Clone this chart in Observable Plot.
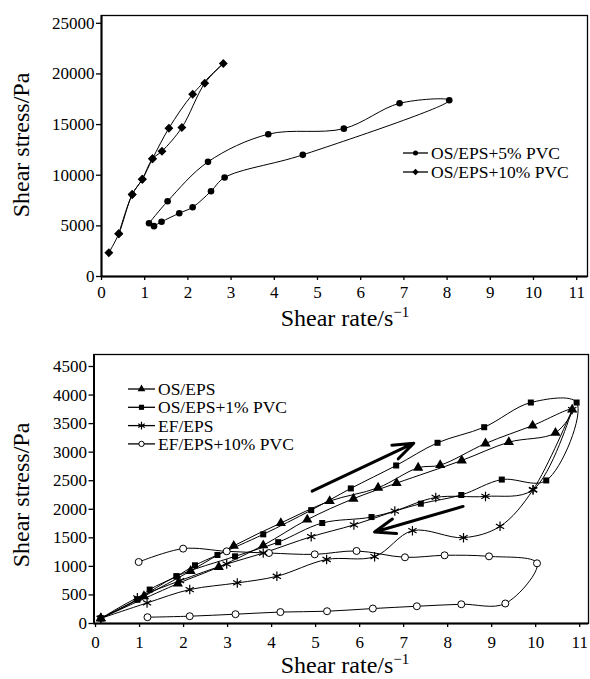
<!DOCTYPE html>
<html><head><meta charset="utf-8">
<script src="https://cdn.jsdelivr.net/npm/d3@7"></script>
<script src="https://cdn.jsdelivr.net/npm/@observablehq/plot@0.6"></script>
<style>
html,body{margin:0;padding:0;background:#fff;}
#chart{width:590px;}
#chart svg{display:block;overflow:visible;}
#chart svg text{font-family:'Liberation Serif','Times New Roman',Times,serif !important;}
</style></head><body><div id="chart"></div>
<script>
// ---------- Top panel data ----------
const topXTicks = [0,1,2,3,4,5,6,7,8,9,10,11];
const topYTicks = [0,5000,10000,15000,20000,25000];
const pvc5X  = [1.10,1.53,2.465,3.86,5.61,6.90,8.05,4.66,2.85,2.535,2.11,1.80,1.39,1.215];
const pvc5Y  = [5260,7430,11320,14050,14600,17100,17400,12010,9770,8420,6840,6250,5400,4970];
const pvc10X = [0.17,0.40,0.71,0.945,1.18,1.56,2.11,2.82,2.39,1.86,1.40,1.18,0.945,0.71,0.40];
const pvc10Y = [2340,4215,8095,9605,11620,14640,18000,21030,19080,14710,12370,11620,9605,8095,4215];
const topLegend = ["OS/EPS+5% PVC","OS/EPS+10% PVC"];

// ---------- Bottom panel data ----------
const botXTicks = [0,1,2,3,4,5,6,7,8,9,10,11];
const botYTicks = [0,500,1000,1500,2000,2500,3000,3500,4000,4500];
const osX   = [0.12,1.10,2.16,3.14,4.21,5.32,6.42,7.33,7.83,8.86,9.93,10.83,10.45,9.39,8.32,6.84,5.86,4.81,3.81,2.80,1.87,0.12];
const osY   = [90,477,920,1360,1759,2143,2377,2727,2773,3152,3466,3746,3339,3175,2855,2458,2185,1818,1369,990,699,90];
const os1X  = [0.12,0.95,1.23,1.84,2.26,2.77,3.81,4.90,5.80,6.83,7.77,8.83,9.89,10.93,10.24,9.23,8.31,7.39,6.27,5.15,4.15,3.17,1.84,0.95,0.12];
const os1Y  = [90,420,594,827,1019,1200,1561,1985,2365,2767,3164,3437,3869,3869,2505,2520,2250,2098,1864,1759,1424,1176,827,420,90];
const efX   = [0.12,0.95,1.92,2.98,3.81,4.90,5.87,6.80,7.73,8.86,9.94,10.83,9.94,9.19,8.36,7.20,6.34,5.25,4.12,3.22,2.14,1.17,0.12];
const efY   = [90,450,750,1040,1234,1520,1727,1968,2207,2225,2342,3746,2342,1701,1503,1625,1170,1121,827,710,594,360,90];
const ef10X = [0.98,1.99,2.98,3.94,4.98,5.93,7.03,7.93,8.94,10.03,9.31,8.31,7.30,6.30,5.26,4.20,3.18,2.14,1.18];
const ef10Y = [1077,1311,1264,1234,1211,1270,1159,1194,1176,1054,350,337,302,262,215,200,163,128,110];
const arrowX1 = [4.92, 8.35];
const arrowY1 = [2318, 2050];
const arrowX2 = [7.23, 6.34];
const arrowY2 = [3157, 1601];
const botLegend = ["OS/EPS","OS/EPS+1% PVC","EF/EPS","EF/EPS+10% PVC"];

const FONT = "'Liberation Serif','Times New Roman',Times,serif";
const pts = (xs, ys) => xs.map((x, i) => ({x, y: ys[i]}));
const fmt = d => String(d);
const chart = document.getElementById("chart");

// ---------- Top plot ----------
const topXDomain = [0, 11.25], topYDomain = [0, 25770];
const p5 = pts(pvc5X, pvc5Y), p10 = pts(pvc10X, pvc10Y);
const topPlot = Plot.plot({
  width: 590, height: 336,
  marginLeft: 101, marginRight: 3, marginTop: 15, marginBottom: 60,
  style: {fontFamily: FONT, fontSize: "17px", color: "#000", background: "#fff", overflow: "visible"},
  x: {domain: topXDomain, label: null},
  y: {domain: topYDomain, label: null},
  marks: [
    Plot.frame({stroke: "#000", strokeWidth: 1.3}),
    Plot.axisX({ticks: topXTicks, tickFormat: fmt, tickSize: 4, tickPadding: 5, label: null, strokeWidth: 1.3}),
    Plot.axisY({ticks: topYTicks, tickFormat: fmt, tickSize: 5, tickPadding: 2, label: null, strokeWidth: 1.3}),
    Plot.ruleX([topXDomain[0]], {stroke: "#000", strokeWidth: 2}),
    Plot.ruleY([topYDomain[0]], {stroke: "#000", strokeWidth: 2}),
    Plot.line(p5, {x: "x", y: "y", curve: "catmull-rom", stroke: "#000", strokeWidth: 1}),
    Plot.line(p10, {x: "x", y: "y", curve: "catmull-rom", stroke: "#000", strokeWidth: 1}),
    Plot.dot(p5, {x: "x", y: "y", r: 3.3, fill: "#000", symbol: "circle"}),
    Plot.dot(p10, {x: "x", y: "y", r: 4, fill: "#000", symbol: "diamond2"})
  ]
});
chart.appendChild(topPlot);

// ---------- Bottom plot ----------
const botXDomain = [-0.035, 11.2], botYDomain = [0, 4710];
const dOS = pts(osX, osY), dOS1 = pts(os1X, os1Y), dEF = pts(efX, efY), dEF10 = pts(ef10X, ef10Y);
const arrows = arrowX1.map((x1, i) => ({x1, y1: arrowY1[i], x2: arrowX2[i], y2: arrowY2[i]}));
const lineOpts = {x: "x", y: "y", curve: "catmull-rom", stroke: "#000", strokeWidth: 1};
const botPlot = Plot.plot({
  width: 590, height: 343,
  marginLeft: 93.5, marginRight: 2, marginTop: 18, marginBottom: 56,
  style: {fontFamily: FONT, fontSize: "17px", color: "#000", background: "#fff", overflow: "visible"},
  x: {domain: botXDomain, label: null},
  y: {domain: botYDomain, label: null},
  marks: [
    Plot.frame({stroke: "#000", strokeWidth: 1.3}),
    Plot.axisX({ticks: botXTicks, tickFormat: fmt, tickSize: 4, tickPadding: 8, label: null, strokeWidth: 1.3}),
    Plot.axisY({ticks: botYTicks, tickFormat: fmt, tickSize: 5, tickPadding: 2, label: null, strokeWidth: 1.3}),
    Plot.ruleX([botXDomain[0]], {stroke: "#000", strokeWidth: 2}),
    Plot.ruleY([botYDomain[0]], {stroke: "#000", strokeWidth: 2}),
    Plot.line(dEF10, lineOpts),
    Plot.line(dEF, lineOpts),
    Plot.line(dOS1, lineOpts),
    Plot.line(dOS, lineOpts),
    Plot.arrow(arrows, {x1: "x1", y1: "y1", x2: "x2", y2: "y2", stroke: "#000", strokeWidth: 3, headLength: 11, headAngle: 40}),
    Plot.dot(dEF10, {x: "x", y: "y", r: 3.5, fill: "#fff", stroke: "#000", strokeWidth: 1, symbol: "circle"}),
    Plot.dot(dEF, {x: "x", y: "y", r: 4.5, stroke: "#000", strokeWidth: 1.2, symbol: "asterisk"}),
    Plot.dot(dOS1, {x: "x", y: "y", r: 3.4, fill: "#000", symbol: "square"}),
    Plot.dot(dOS, {x: "x", y: "y", r: 3.8, fill: "#000", symbol: "triangle"})
  ]
});
chart.appendChild(botPlot);

// ---------- Titles & legends ----------
function yTitle(svg, cx, cy) {
  d3.select(svg).append("text")
    .attr("transform", `translate(${cx},${cy}) rotate(-90)`)
    .attr("text-anchor", "middle").attr("dominant-baseline", "central")
    .style("font-size", "24px").attr("fill", "#000")
    .text("Shear stress/Pa");
}
function xTitle(svg, cx, by) {
  const t = d3.select(svg).append("text")
    .attr("x", cx).attr("y", by).attr("text-anchor", "middle")
    .style("font-size", "24px").attr("fill", "#000");
  t.append("tspan").text("Shear rate/s");
  t.append("tspan").attr("dy", "-0.6em").style("font-size", "15px").text("\u22121");
}
function legend(svg, labels, symbols, opts) {
  const g = d3.select(svg).append("g").attr("text-anchor", "start");
  labels.forEach((lab, i) => {
    const y = opts.y0 + i * opts.dy;
    g.append("line").attr("x1", opts.x0).attr("x2", opts.x0 + opts.len)
      .attr("y1", y).attr("y2", y).attr("stroke", "#000").attr("stroke-width", 1.3);
    const s = symbols[i];
    g.append("path").attr("d", d3.symbol(s.type, s.size)())
      .attr("transform", `translate(${opts.x0 + opts.len / 2},${y})`)
      .attr("fill", s.fill).attr("stroke", s.stroke || "none").attr("stroke-width", s.sw || 1);
    g.append("text").attr("x", opts.x0 + opts.len + 3).attr("y", y)
      .attr("text-anchor", "start").attr("dominant-baseline", "central")
      .style("font-size", "17.5px").attr("fill", "#000").text(lab);
  });
}
yTitle(topPlot, 21, 145);
xTitle(topPlot, 345, 326);
legend(topPlot, topLegend, [
  {type: d3.symbolCircle, size: 20, fill: "#000"},
  {type: d3.symbolDiamond2, size: 26, fill: "#000"}
], {x0: 403, len: 25, y0: 153, dy: 19});

yTitle(botPlot, 21, 159);
xTitle(botPlot, 345, 337);
legend(botPlot, botLegend, [
  {type: d3.symbolTriangle, size: 26, fill: "#000"},
  {type: d3.symbolSquare, size: 26, fill: "#000"},
  {type: d3.symbolAsterisk, size: 40, fill: "none", stroke: "#000", sw: 1.2},
  {type: d3.symbolCircle, size: 22, fill: "#fff", stroke: "#000", sw: 1}
], {x0: 128, len: 27, y0: 53, dy: 18.3});
</script></body></html>
